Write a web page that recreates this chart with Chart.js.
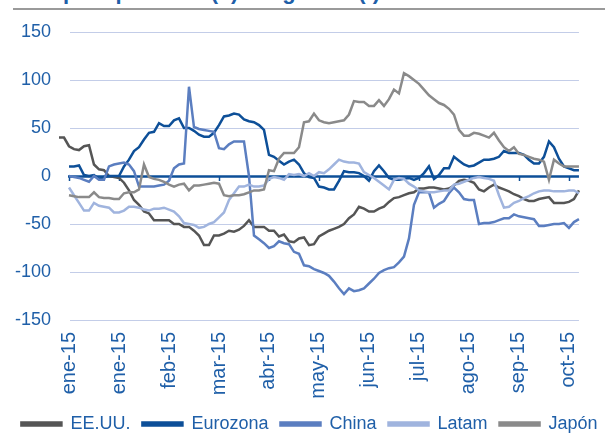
<!DOCTYPE html>
<html>
<head>
<meta charset="utf-8">
<script src="https://cdn.jsdelivr.net/npm/chart.js@4"></script>
<style>
  body { margin: 0; background: #fff; }
  #wrap { position: relative; width: 605px; height: 440px; overflow: hidden; }
  #title { position: absolute; left: 14px; top: -21px; font: bold 22px "Liberation Sans", Arial, sans-serif; color: #1f5fa8; white-space: nowrap; }
  #rule { position: absolute; left: 13px; right: 0; top: 8px; height: 2px; background: #9a9a9a; }
  canvas { position: absolute; left: 0; top: 0; }
</style>
</head>
<body>
<div id="wrap">
  <div id="title">Compras positivas(+) / negativas(-)</div>
  <div id="rule"></div>
  <canvas id="flows_chart" width="605" height="440"></canvas>
</div>
<script>
// tick labels, one every 10 points starting at point 2
const tickLabels = ["ene-15", "ene-15", "feb-15", "mar-15", "abr-15", "may-15", "jun-15", "jul-15", "ago-15", "sep-15", "oct-15"];
const tickStart = 2;
const tickEvery = 10;

const seriesNames = ["EE.UU.", "Eurozona", "China", "Latam", "Japón"];

const eeuu = [40,40,31,28,27,31,32,12,7,6, 0,-1,-2,-7,-15,-25,-30,-37,-39,-46, -46,-46,-46,-50,-50,-53,-53,-57,-62,-72, -72,-62,-62,-60,-57,-58,-56,-52,-46,-53, -53,-53,-57,-57,-63,-61,-68,-69,-65,-64, -72,-71,-63,-60,-57,-55,-53,-50,-44,-40, -32,-34,-37,-37,-34,-32,-27,-23,-22,-20, -18,-17,-13,-13,-12,-12,-13,-14,-13,-10, -5,-4,-5,-7,-14,-16,-12,-9,-12,-14, -16,-19,-21,-24,-26,-26,-24,-23,-22,-28, -28,-28,-27,-24,-15];
const eurozona = [null,null,10,10,11,1,0,1,-3,-1, 0,0,0,10,17,26,30,38,45,46, 55,52,52,58,60,50,50,47,43,41, 41,45,53,62,63,65,64,59,57,56, 53,48,22,20,16,12,15,17,12,3, -1,-2,-11,-12,-14,-14,-5,5,4,4, 3,0,-5,5,11,5,-2,-4,-4,-3, -2,-4,-2,3,10,-3,1,8,8,20, 16,12,10,11,14,17,17,18,20,26, 24,24,24,22,17,13,13,20,36,30, 18,10,8,6,6];
const china = [null,null,0,-1,-2,-4,-6,0,-4,-4, 10,12,13,14,12,5,-11,-11,-11,-11, -10,-9,-5,8,12,13,93,51,49,48, 47,46,29,28,33,36,36,36,0,-62, -66,-70,-75,-73,-68,-70,-71,-79,-81,-93, -94,-97,-99,-101,-104,-110,-117,-123,-117,-120, -119,-117,-112,-107,-101,-98,-96,-95,-90,-84, -65,-30,-17,-17,-17,-33,-29,-26,-18,-12, -17,-24,-25,-25,-50,-49,-49,-48,-46,-44, -44,-40,-42,-43,-44,-45,-52,-52,-51,-50, -50,-49,-54,-48,-45];
const latam = [null,null,-12,-20,-28,-36,-36,-28,-31,-32, -33,-38,-38,-36,-32,-32,-33,-35,-36,-34, -34,-33,-35,-37,-42,-49,-50,-51,-54,-53, -50,-48,-43,-38,-25,-18,-11,-11,-9,-11, -11,-10,-3,-1,-2,-4,2,1,2,0, 3,0,4,3,7,12,17,15,14,14, 13,4,1,-2,-6,-10,-14,-4,-2,-3, -8,-11,-15,-16,-17,-17,-16,-15,-15,-9, -8,-6,-4,-2,-1,-2,-3,-5,-20,-33, -32,-28,-26,-23,-21,-18,-16,-15,-15,-16, -16,-16,-15,-15,-18];
const japon = [null,null,-20,-21,-22,-22,-22,-17,-22,-23, -23,-24,-24,-18,-17,-17,-14,12,-1,-3, -4,-6,-9,-11,-9,-8,-15,-10,-10,-9, -8,-7,-8,-20,-21,-20,-20,-19,-17,-15, -15,-14,6,5,18,24,24,24,30,56, 57,65,58,56,55,56,57,58,64,78, 77,77,73,73,79,73,80,90,86,107, 104,100,96,90,84,80,76,74,70,64, 48,42,42,45,44,42,40,45,37,30, 26,30,23,22,20,18,17,15,-4,17, 13,10,10,10,10];

const yTicks = [150, 100, 50, 0, -50, -100, -150];

const colors = ["#555555", "#0d4f98", "#5b7ec0", "#a0b4de", "#8a8a8a"];
const textColor = "#1f5fa8";
const gridColor = "#c3cde8";
const fontFamily = '"Liberation Sans", Arial, sans-serif';

const labels = eeuu.map((v, i) =>
  i >= tickStart && (i - tickStart) % tickEvery === 0 ? tickLabels[(i - tickStart) / tickEvery] : ""
);

// horizontal grid lines (start a bit right of the axis like the original) + zero line with ticks
const gridPlugin = {
  id: "gridPlugin",
  afterLayout(chart) {
    // legend sits a little to the right in the original
    chart.legend.left += 8;
    chart.legend.right += 8;
  },
  beforeDatasetsDraw(chart) {
    const { ctx, chartArea, scales } = chart;
    ctx.save();
    yTicks.forEach((v) => {
      const y = Math.round(scales.y.getPixelForValue(v)) + 0.5;
      ctx.beginPath();
      if (v === 0) {
        ctx.strokeStyle = colors[1];
        ctx.lineWidth = 2.5;
        ctx.moveTo(chartArea.left + 9, y);
      } else {
        ctx.strokeStyle = gridColor;
        ctx.lineWidth = 1;
        ctx.moveTo(chartArea.left + 11, y);
      }
      ctx.lineTo(chartArea.right, y);
      ctx.stroke();
    });
    const y0 = scales.y.getPixelForValue(0);
    ctx.strokeStyle = colors[1];
    ctx.lineWidth = 1.5;
    labels.forEach((l, i) => {
      if (!l) return;
      const x = Math.round(scales.x.getPixelForValue(i)) + 0.5;
      ctx.beginPath();
      ctx.moveTo(x, y0);
      ctx.lineTo(x, y0 + 5);
      ctx.stroke();
    });
    ctx.restore();
  },
};

const flowsChart = () => {
  const series = [eeuu, eurozona, china, latam, japon];
  const datasets = series.map((d, k) => ({
    label: seriesNames[k],
    data: d,
    borderColor: colors[k],
    backgroundColor: colors[k],
    borderWidth: 2.5,
    pointRadius: 0,
    tension: 0,
    order: 5 - k,
  }));

  new Chart(document.getElementById("flows_chart"), {
    type: "line",
    data: { labels: labels, datasets: datasets },
    options: {
      responsive: false,
      animation: false,
      layout: { padding: { top: 32, right: 2, left: 0, bottom: -3 } },
      plugins: {
        tooltip: { enabled: false },
        legend: {
          position: "bottom",
          labels: {
            boxWidth: 40,
            boxHeight: 3,
            padding: 12,
            color: textColor,
            font: { family: fontFamily, size: 18 },
            sort: (a, b) => a.datasetIndex - b.datasetIndex,
          },
        },
      },
      scales: {
        x: {
          grid: { display: false, drawTicks: false },
          border: { display: false },
          ticks: {
            autoSkip: false,
            minRotation: 90,
            maxRotation: 90,
            padding: 12,
            color: textColor,
            font: { family: fontFamily, size: 20 },
            callback: (v, i) => (labels[i] ? labels[i] : null),
          },
          afterFit: (s) => { s.height = 83; },
        },
        y: {
          min: -150,
          max: 150,
          grid: { display: false, drawTicks: false },
          border: { display: false },
          ticks: {
            stepSize: 50,
            padding: 8,
            color: textColor,
            font: { family: fontFamily, size: 18 },
          },
          afterFit: (s) => { s.width = 59; },
        },
      },
    },
    plugins: [gridPlugin],
  });
};

flowsChart();
</script>
</body>
</html>
